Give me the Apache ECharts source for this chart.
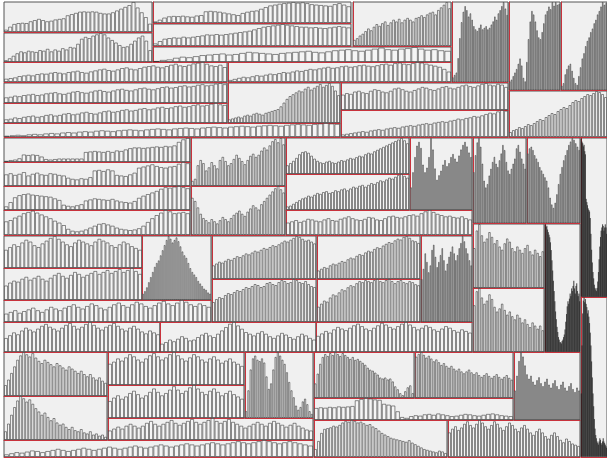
<!DOCTYPE html>
<html>
<head>
<meta charset="utf-8">
<script src="https://cdn.jsdelivr.net/npm/echarts@6/dist/echarts.min.js"></script>
<style>
  html, body { margin: 0; padding: 0; background: #fff; }
  #main { width: 607px; height: 460px; }
</style>
</head>
<body>
<div id="main"></div>
<script>
// values per tile (one small series each)
var s01 = [8,18,27,30,31,30,36,40,44,40,36,38,42,44,46,56,60,64,68,69,68,69,68,64,62,62,66,72,78,84,90,100,82,66,50,28];
var s02 = [6,12,20,28,34,31,36,34,32,38,36,42,34,40,36,44,40,48,46,58,74,80,76,84,88,92,88,78,70,62,54,48,50,58,68,78,84,68,38];
var s03 = [8,16,26,32,34,33,35,32,30,36,38,56,58,56,54,50,46,42,38,48,54,58,60,68,76,84,88,92,95,97,100,97,99,95,90,88,86,84,82,90,95,88,80];
var s04 = [8,15,22,24,26,25,28,26,28,30,32,35,34,36,34,36,38,40,42,44,46,50,54,58,60,62,64,66,64,62,60,58,58,56,57,55,54,56,58,60,58,56];
var s05 = [4,8,10,16,20,18,22,26,28,30,32,28,30,34,38,36,34,32,30,34,36,38,40,42,38,36,40,44,46,48,44,42,46,50,54,48,46,50,52,56,50,46,48,44,42];
var s06 = [14,18,24,28,34,40,36,44,50,46,52,56,48,54,60,56,62,54,60,64,60,56,64,66,70,66,72,76,78,72,82,88,94,100,86];
var s07 = [6,9,12,30,55,75,88,95,90,82,86,78,70,66,64,68,72,66,68,70,66,68,72,76,82,78,86,90,95,100,92,84];
var s08 = [10,12,16,20,24,30,36,28,14,10,32,58,78,90,86,78,68,60,58,66,76,86,90,95,92,100,96,100,97,98];
var s09 = [5,8,18,24,28,30,22,14,8,6,16,26,36,42,50,56,60,66,70,76,80,86,90,95,100,97,99];
var s10 = [10,12,14,18,20,22,20,24,26,25,28,30,28,26,30,32,34,30,28,32,35,38,40,36,34,38,42,44,40,38,42,46,48,50,46,44,48,52,55,50,48,52,56,58,60,55,50,48,52,45];
var s11 = [8,12,16,20,18,22,26,24,28,32,30,34,38,36,40,44,42,46,50,48,52,55,58,54,56,60,62,58,60,64,66,62,60,64,68,70,66,72,74,70,68,72,76,74,70,66,62,58,50,40];
var s12 = [20,22,26,24,28,30,32,28,30,34,36,38,34,32,36,40,42,38,36,40,44,46,42,40,44,48,50,46,44,48,52,54,50,48,52,56,58,54,56,60,62,58,60,64,66,62,64,68,70,66];
var s13 = [12,14,18,16,20,22,24,20,22,26,28,24,26,30,32,28,30,34,36,32,30,34,38,40,36,38,42,44,40,42,46,48,44,46,50,52,48,50,54,56,52,54,58,60,56,58,62,64,60,58];
var s14 = [8,10,12,14,12,16,18,16,20,22,20,18,22,24,26,28,30,36,44,52,58,62,66,70,68,74,78,72,76,80,84,78,82,86,80,70,60];
var s15 = [40,44,42,48,50,46,44,50,54,52,48,46,50,56,58,54,50,48,52,56,60,58,54,52,56,60,62,58,56,60,64,66,62,60,64,68,70,66,64,68,66,60];
var s16 = [8,10,12,14,16,18,16,20,22,24,22,26,28,30,28,32,34,36,34,38,40,42,40,44,46,48,46,50,52,56,54,58,60,64,62,66,70,74,72,78,82,80];
var s17 = [10,14,16,20,18,22,26,24,28,32,36,34,40,44,48,46,52,56,60,58,64,70,74,72,78,82,86,84,88,92,90,86,80];
var s18 = [6,8,10,8,12,14,12,16,18,16,20,22,20,24,26,24,28,30,28,26,30,32,34,32,30,34,36,38,36,34,38,40,42,40,38,42,44,46,44,42,46,48,50,48,46,50,52,54,52,50,54,56,58,56,54,58,60,62,60,58];
var s19 = [5,8,10,15,30,28,30,28,22,12,10,12,14,14,14,14,14,14,40,42,44,42,40,44,40,46,44,50,55,58,58,56,58,60,62,60,64,62,66,80,90,95];
var s20 = [42,46,40,44,50,38,44,48,42,40,46,44,40,38,30,26,24,28,26,32,56,58,54,60,56,40,38,36,42,48,66,70,74,78,72,68,66,70,72,80,86,82];
var s21 = [14,30,48,56,60,62,58,56,54,52,50,44,38,20,16,14,18,22,36,40,44,42,40,38,42,36,32,30,28,34,46,54,60,66,72,80,86,84,88,90,86,82];
var s22 = [44,48,56,62,70,74,78,72,66,60,54,46,40,32,20,14,12,14,18,24,30,36,38,34,30,24,20,18,16,18,22,30,42,54,64,72,80,76,70,72,74,70];
var s23 = [10,14,40,50,44,30,36,46,40,34,50,56,48,40,44,52,60,54,48,42,50,58,62,56,60,68,74,70,78,86,90,84,92,80];
var s24 = [70,64,52,40,32,28,24,30,26,22,28,34,30,26,32,38,42,46,40,36,44,50,56,52,48,58,64,70,76,82,88,92,86,80];
var s25 = [24,30,36,44,54,60,62,58,50,42,36,32,30,34,36,32,30,34,38,36,40,44,42,46,50,48,54,58,56,62,66,70,74,78,82,86,90,94,98,92,84];
var s26 = [8,10,14,18,22,26,28,32,30,34,38,36,40,42,38,40,44,42,46,48,44,48,52,50,54,56,52,56,60,58,62,66,64,68,72,70,74,78,80,76,72];
var s27 = [30,50,70,85,90,82,60,50,56,70,95,80,55,40,46,52,60,66,58,62,70,74,68,64,72,80,86,90,84,76,70];
var s28 = [40,44,48,42,46,52,50,46,44,50,54,48,46,52,56,60,54,50,48,52,58,56,50,48,54,60,62,58,56,60,64,66,62,70,76,80,74,68,64,60,62,58,56,60,54,50];
var s29 = [60,80,95,100,90,70,50,42,46,56,64,72,78,70,66,74,82,92,86,72,62,58,64,70,76,88,92,84,76,70,64];
var s30 = [82,88,90,86,80,76,72,66,62,58,54,50,42,30,22,18,24,34,46,58,66,74,80,86,92,96,100,98,94,90,86];
var s31 = [100,98,97,95,96,92,90,62,60,58,56,55,54,50,40,30,22,16,12,8,6,5,4,6,10,16,24,32,38,42,44,46,45,42,44,46,44,40];
var s32 = [50,72,80,66,58,62,70,64,56,60,52,48,56,62,58,50,46,52,48,44,50,54,46,42,48,44,40,46];
var s33 = [100,98,99,96,94,92,90,86,80,72,64,56,48,40,32,26,20,16,12,10,8,8,7,9,10,12,14,18,24,30,36,40,38,42,46,44,50,48,52,56,50,46,52,54,48,44,46,40];
var s34 = [40,70,90,98,100,97,99,96,94,90,92,88,84,78,70,60,50,40,32,24,18,14,12,10,9,8,10,12,11,9,8,10,12,10,9,8,7,6];
var s35 = [40,46,52,48,56,62,58,50,46,54,60,66,70,64,58,52,48,56,62,58,54,50,58,64,60,56,50,46,52,58,54,48,44,40];
var s36 = [30,36,40,38,44,48,42,46,50,44,40,46,52,56,50,46,52,58,54,48,52,56,60,54,58,62,56,60,64,58,62,66,60,54];
var s37 = [10,14,20,28,36,44,52,58,62,70,78,86,94,100,96,90,94,98,92,84,76,70,66,58,50,44,40,36,30,26,22,18,16,12,10];
var s38 = [20,24,28,22,26,30,34,28,24,30,36,32,28,34,38,42,36,32,38,44,40,34,30,36,42,46,40,36,42,48,44,38,34,40,46,50,44,40,46,52,48,42,38,44,40,36];
var s39 = [30,34,38,36,40,44,42,46,50,48,52,56,54,58,62,60,64,68,66,70,74,72,76,80,84,82,86,90,94,92,88,84,86,82,78];
var s40 = [40,46,50,48,54,58,56,60,64,62,66,70,68,72,76,74,70,72,78,80,76,74,80,84,82,78,80,86,84,80,78,82,76,72,70];
var s41 = [20,24,28,26,32,36,34,38,42,40,46,50,48,54,58,56,62,66,64,70,74,72,78,82,86,84,90,94,92,98,100,96,90,88,84];
var s42 = [30,36,42,40,48,54,52,58,64,62,68,72,70,76,80,78,82,80,78,82,84,80,78,82,84,80,76,80,82,78,76,80,78,74,72];
var s43 = [50,62,80,70,58,66,84,90,76,64,70,78,86,72,60,68,76,82,88,80,72,78,86,92,100,94,86,80,72,66];
var s44 = [60,78,82,70,62,66,74,68,58,52,56,62,54,48,52,46,42,48,44,38,42,36,32,38,34,30,34,28];
var s45 = [30,36,42,38,46,52,48,44,50,56,60,54,50,46,52,58,62,56,50,54,60,64,58,52,48,54,58,62,56,50,46,52,56,50,44,40,46,42,38];
var s46 = [20,24,30,26,32,38,34,28,30,36,42,46,40,36,44,52,60,68,72,64,56,48,44,40,46,50,44,38,34,40,46,42,36,32,38,44,40,34,30];
var s47 = [40,46,52,48,56,62,58,54,60,66,70,64,58,54,60,66,72,68,62,58,64,70,74,68,62,56,60,66,62,56,52,58,64,60,54,50,56,52,48];
var s48 = [20,30,42,54,66,74,80,76,72,78,70,64,60,66,62,58,54,60,56,52,48,54,50,46,42,46,40,36,40,34,30,34,28,24];
var s49 = [16,30,46,60,72,80,76,70,74,66,58,52,46,50,42,36,40,32,28,30,24,20,24,18,16,20,14,12,16,10,12,8,10,6];
var s50 = [40,44,50,46,52,58,54,48,44,50,56,60,54,48,52,58,62,56,50,46,52,58,54,48,44,50,54,48,42,46,50,44,40,36];
var s51 = [30,36,40,34,38,44,48,42,36,40,46,52,46,40,44,50,56,50,44,48,54,58,52,46,42,48,52,46,40,44,48,42,38,34];
var s52 = [20,24,28,24,30,34,30,26,30,36,40,34,30,34,38,42,36,32,36,40,44,38,34,38,42,46,40,36,40,44,38,34,30,26,30,34,38,34,30,36,40,36,32,28,32,36,30,26,22,20];
var s53 = [10,40,70,86,90,84,82,86,80,60,42,50,70,88,95,90,84,78,66,52,40,30,18,12,16,24,28,20,10,6];
var s54 = [10,14,18,16,20,24,22,18,22,26,30,26,22,26,30,34,30,26,30,34,38,34,30,34,38,42,38,34,38,42,46,42,38,42,46,50,46,42,46,50,54,50,46,50,54,58,54,50,54,58,62,58,54,50,54,58,54,50,46,42];
var s55 = [30,50,70,84,90,86,92,88,94,90,86,92,88,84,80,84,78,80,76,72,68,62,58,56,52,48,42,40,42,38,40,34,24,18,10,6,14,22,26,10];
var s56 = [90,96,100,94,88,92,86,80,84,78,72,76,70,66,70,64,60,64,58,54,58,62,56,52,56,50,46,50,54,48,44,48,52,46,42,46,50,44,40];
var s57 = [40,60,80,92,86,74,62,56,60,52,48,54,58,50,46,52,56,48,44,50,54,46,42,48,52,44,40,46,50,42,38,44,40];
var s58 = [55,58,56,60,58,62,60,62,64,90,96,100,98,94,92,74,70,66,40,14,10,18,22,20,26,28,24,30,26,22,18,20,24,28,26,22,20,24,28,30,26,22,20,18];
var s59 = [20,40,60,70,72,74,78,76,80,86,90,88,92,90,86,88,84,80,82,76,72,66,60,56,52,48,46,44,42,40,38,42,36,32,28,24,20,18,16,14,12,16,14,10];
var s60 = [40,46,50,44,48,54,58,52,48,54,60,56,50,46,52,58,54,48,44,50,56,52,46,42,48,52,46,40,36,42,46,40,34,30,36,40,34,28,24,30,26,22,20,18];

// tile rectangles [x0, y0, x1, y1]
var tiles = [
  [[4, 2, 152, 32], s01], [[4, 33, 152, 62], s02],
  [[153, 2, 351, 23], s03], [[153, 24, 351, 46], s04], [[153, 47, 451, 62], s05],
  [[353, 2, 451, 46], s06], [[452, 2, 508, 82], s07],
  [[509, 2, 560, 90], s08], [[561, 2, 607, 90], s09],
  [[4, 62, 227, 82], s10], [[228, 62, 451, 82], s11],
  [[4, 83, 227, 103], s12], [[4, 103, 227, 123], s13],
  [[228, 83, 340, 123], s14], [[341, 83, 508, 110], s15], [[341, 110, 508, 137], s16],
  [[509, 91, 607, 137], s17], [[4, 123, 340, 137], s18],
  [[4, 138, 190, 162], s19], [[4, 162, 190, 186], s20], [[4, 186, 190, 210], s21], [[4, 210, 190, 235], s22],
  [[191, 138, 285, 186], s23], [[191, 186, 285, 235], s24],
  [[286, 138, 409, 174], s25], [[286, 174, 409, 210], s26], [[410, 138, 472, 210], s27],
  [[286, 210, 472, 235], s28],
  [[473, 138, 526, 223], s29], [[527, 138, 580, 223], s30], [[581, 138, 607, 297], s31],
  [[473, 224, 544, 288], s32], [[545, 224, 580, 352], s33], [[581, 297, 607, 457], s34],
  [[4, 236, 142, 268], s35], [[4, 268, 142, 300], s36], [[142, 236, 211, 300], s37],
  [[4, 300, 211, 322], s38],
  [[212, 236, 316, 279], s39], [[212, 279, 316, 322], s40],
  [[317, 236, 420, 279], s41], [[317, 279, 420, 322], s42], [[421, 236, 472, 322], s43],
  [[473, 288, 544, 352], s44],
  [[4, 322, 160, 352], s45], [[160, 322, 316, 352], s46], [[316, 322, 472, 352], s47],
  [[4, 352, 107, 396], s48], [[4, 396, 107, 440], s49],
  [[108, 352, 244, 385], s50], [[108, 385, 244, 418], s51], [[108, 418, 313, 440], s52],
  [[245, 352, 313, 418], s53], [[4, 440, 313, 457], s54],
  [[314, 352, 414, 398], s55], [[415, 352, 513, 398], s56], [[514, 352, 580, 420], s57],
  [[314, 398, 513, 420], s58], [[314, 420, 447, 457], s59], [[448, 420, 580, 457], s60]
];

var chart = echarts.init(document.getElementById('main'));
var grid = [], xAxis = [], yAxis = [], series = [];
tiles.forEach(function (t, i) {
  var r = t[0], d = t[1];
  grid.push({
    left: r[0], top: r[1], width: r[2] - r[0], height: r[3] - r[1],
    show: true, backgroundColor: '#f0f0f0', borderColor: '#555', borderWidth: 1
  });
  xAxis.push({
    type: 'category', gridIndex: i,
    data: d.map(function (v, j) { return j; }),
    axisLine: { lineStyle: { color: '#c8323c' } },
    axisTick: { show: false }, axisLabel: { show: false }
  });
  yAxis.push({
    type: 'value', gridIndex: i, min: 0, max: 'dataMax',
    splitLine: { show: false }, axisLabel: { show: false }, axisTick: { show: false },
    axisLine: { show: r[0] > 10, lineStyle: { color: '#c8323c' } }
  });
  series.push({
    type: 'bar', xAxisIndex: i, yAxisIndex: i, data: d,
    barCategoryGap: 0, silent: true,
    itemStyle: { color: '#f5f5f5', borderColor: 'rgba(30,30,30,0.5)', borderWidth: 1 }
  });
});

chart.setOption({
  animation: false,
  grid: grid,
  xAxis: xAxis,
  yAxis: yAxis,
  series: series
});
</script>
</body>
</html>
